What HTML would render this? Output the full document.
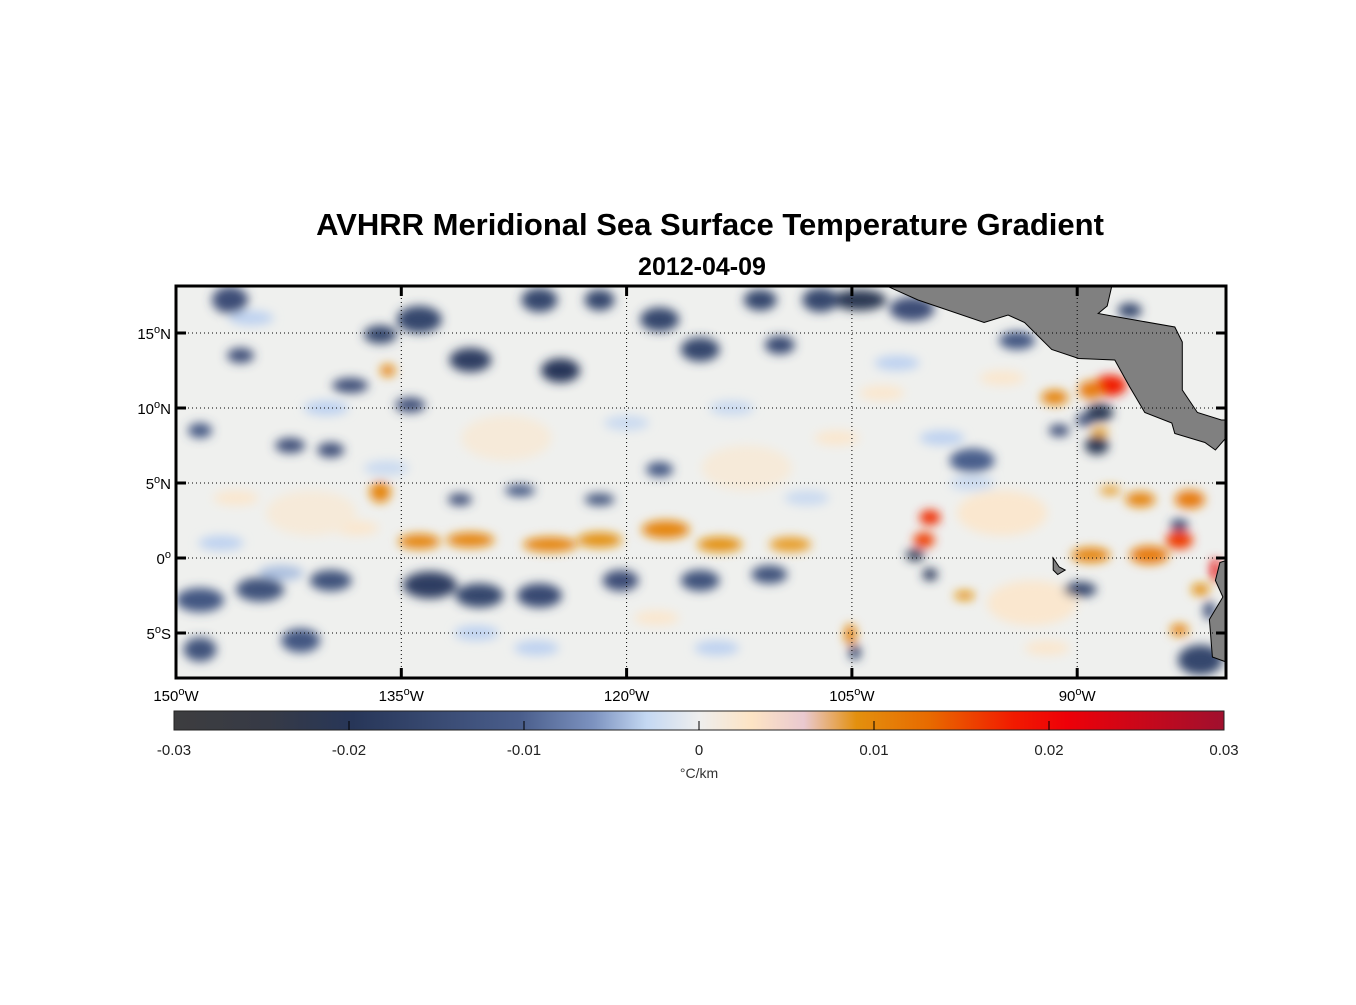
<!DOCTYPE html>
<html><head><meta charset="utf-8"><style>
body{margin:0;background:#fff;width:1356px;height:1000px;overflow:hidden;font-family:"Liberation Sans",Arial,sans-serif}
svg text{font-family:"Liberation Sans",Arial,sans-serif}
</style></head><body>
<svg id="chart" width="1356" height="1000" viewBox="0 0 1356 1000" xmlns="http://www.w3.org/2000/svg">
<defs>
<filter id="blur" x="-50%" y="-50%" width="200%" height="200%"><feGaussianBlur stdDeviation="5"/></filter>
<clipPath id="mapclip"><rect x="176" y="286" width="1050" height="392"/></clipPath>
<linearGradient id="cbgrad" x1="0" x2="1" y1="0" y2="0">
<stop offset="0" stop-color="#3d3d3f"/>
<stop offset="0.09" stop-color="#363a46"/>
<stop offset="0.17" stop-color="#273658"/>
<stop offset="0.33" stop-color="#4a5e8c"/>
<stop offset="0.40" stop-color="#7d93c0"/>
<stop offset="0.45" stop-color="#c4d8f2"/>
<stop offset="0.5" stop-color="#eeeeee"/>
<stop offset="0.55" stop-color="#fde4c4"/>
<stop offset="0.60" stop-color="#e9c9d0"/>
<stop offset="0.65" stop-color="#e3900e"/>
<stop offset="0.72" stop-color="#e86a00"/>
<stop offset="0.80" stop-color="#f21a00"/>
<stop offset="0.85" stop-color="#ee0008"/>
<stop offset="1" stop-color="#a0102e"/>
</linearGradient>
</defs>
<text x="710" y="235" font-size="31" font-weight="bold" text-anchor="middle">AVHRR Meridional Sea Surface Temperature Gradient</text>
<text x="702" y="275" font-size="25" font-weight="bold" text-anchor="middle">2012-04-09</text>
<g clip-path="url(#mapclip)">
<rect x="176" y="286" width="1050" height="392" fill="#eff0ee"/>
<g id="blobs" filter="url(#blur)"></g>
<g id="land"></g>
<g id="grid"></g>
</g>
<rect x="176" y="286" width="1050" height="392" fill="none" stroke="#000" stroke-width="3"/>
<g id="axes"></g>
<g id="colorbar">
<rect x="174" y="711" width="1050" height="19" fill="url(#cbgrad)" stroke="#222" stroke-width="1"/>
</g>
<text x="699" y="778" font-size="14" text-anchor="middle" fill="#333">°C/km</text>
</svg>
<script>
const NS="http://www.w3.org/2000/svg";
const lonTicks=[-150,-135,-120,-105,-90];
const latTicks=[15,10,5,0,-5];
const cbTicks=[-0.03,-0.02,-0.01,0,0.01,0.02,0.03];
const blobLon=[-133.8,-130.4,-125.1,-121.8,-117.4,-113.8,-109.1,-136.4,-135.9,-89.1,-87.8,-91.5,-88.5,-99.8,-100.2,-89.1,-85.2,-83.2,-82.5,-85.8,-81.8,-83.2,-105.1,-97.5,-87.8,-80.8,
-146.4,-133.8,-130.4,-134.4,-136.4,-125.8,-124.4,-121.8,-117.8,-115.1,-111.1,-107.1,-104.5,-109.8,-138.4,-145.7,-142.4,-139.7,-148.4,-131.1,-127.1,-121.8,-117.8,
-148.4,-144.4,-139.7,-133.1,-129.8,-125.8,-120.4,-115.1,-110.5,-148.4,-141.7,
-88.5,-88.7,-89.5,-91.2,-89.8,-100.8,-99.8,-104.8,-83.2,-81.2,-81.8,-86.5,-94,-101,-97,
-141,-128,-112,-93,-95,-145,-140,-138,-130,-118,-114,-108,-103,-99,-95,-147,-143,-126,-113,-106,-102,-97,-92,-120,-146,-136];
const blobLat=[1.1,1.2,0.9,1.2,1.9,0.9,0.9,4.4,12.5,11.2,11.5,10.7,8.4,2.7,1.2,0.2,0.2,1.2,3.9,3.9,-2.1,-4.8,-5.1,-2.5,4.5,-0.8,
17.2,15.9,13.2,10.2,14.9,17.2,12.5,17.2,15.9,13.9,17.2,17.2,17.2,14.2,11.5,13.5,7.5,7.2,8.5,3.9,4.5,3.9,5.9,
-2.8,-2.1,-1.5,-1.8,-2.5,-2.5,-1.5,-1.5,-1.1,-6.1,-5.5,
9.7,7.5,9.2,8.5,-2.1,0.2,-1.1,-6.3,2.2,-3.5,-6.8,16.5,14.5,16.6,6.5,
3,8,6,-3,3,16,10,2,-5,-4,-6,4,11,8,12,1,-1,-6,10,8,13,5,-6,9,4,6];
const blobVal=[0.011,0.011,0.011,0.01,0.011,0.01,0.009,0.011,0.011,0.012,0.019,0.011,0.009,0.018,0.017,0.011,0.012,0.017,0.012,0.011,0.01,0.011,0.011,0.01,0.009,0.021,
-0.014,-0.016,-0.018,-0.014,-0.016,-0.016,-0.02,-0.016,-0.016,-0.016,-0.016,-0.016,-0.022,-0.015,-0.014,-0.014,-0.014,-0.014,-0.012,-0.014,-0.012,-0.013,-0.012,
-0.012,-0.013,-0.013,-0.018,-0.016,-0.015,-0.014,-0.013,-0.013,-0.013,-0.012,
-0.022,-0.022,-0.014,-0.014,-0.016,-0.022,-0.02,-0.016,-0.015,-0.014,-0.016,-0.016,-0.012,-0.014,-0.01,
0.002,0.002,0.002,0.003,0.003,-0.004,-0.004,0.003,-0.004,0.003,-0.004,-0.003,0.003,-0.004,0.003,-0.004,-0.005,-0.004,-0.003,0.003,-0.004,-0.003,0.003,-0.003,0.003,-0.003];
const blobRx=[1.4,1.6,1.8,1.5,1.6,1.5,1.4,0.7,0.5,0.8,1.1,0.9,0.6,0.7,0.7,1.3,1.3,0.9,1,1,0.6,0.6,0.4,0.7,0.7,0.3,
1.2,1.5,1.4,1,1.1,1.2,1.3,1,1.3,1.3,1.1,1.2,1.8,1,1.2,0.9,1,0.9,0.8,0.8,1,1,0.9,
1.6,1.6,1.4,1.8,1.6,1.5,1.2,1.3,1.2,1.1,1.3,
0.9,0.8,0.6,0.7,1.1,0.6,0.5,0.4,0.6,0.4,1.5,0.8,1.2,1.5,1.5,
3,3,3,3,3,1.5,1.5,1.5,1.5,1.5,1.5,1.5,1.5,1.5,1.5,1.5,1.5,1.5,1.5,1.5,1.5,1.5,1.5,1.5,1.5,1.5];
const blobRy=[0.5,0.5,0.5,0.5,0.6,0.5,0.5,0.7,0.4,0.6,0.7,0.5,0.3,0.5,0.5,0.5,0.6,0.6,0.6,0.5,0.4,0.4,0.7,0.3,0.3,0.8,
0.9,0.9,0.8,0.5,0.6,0.8,0.8,0.7,0.8,0.8,0.7,0.8,0.7,0.6,0.5,0.5,0.5,0.5,0.5,0.4,0.4,0.4,0.5,
0.8,0.8,0.7,0.9,0.8,0.8,0.7,0.7,0.6,0.8,0.8,
0.6,0.6,0.4,0.4,0.5,0.4,0.4,0.5,0.4,0.6,1,0.5,0.6,0.8,0.8,
1.5,1.5,1.5,1.5,1.5,0.5,0.5,0.5,0.5,0.5,0.5,0.5,0.5,0.5,0.5,0.5,0.5,0.5,0.5,0.5,0.5,0.5,0.5,0.5,0.5,0.5];
const landMexico=[[-102.6,18.1],[-87.7,18.1],[-88.0,16.8],[-88.6,16.3],[-87.5,16.1],[-83.5,15.4],[-83,14.4],[-83,11.2],[-82,9.7],[-80.4,9.2],[-79.9,9.2],[-79.9,8.3],[-80.1,8],[-80.8,7.2],[-81.5,7.7],[-83.5,8.3],[-83.7,9],[-85.5,9.7],[-86.5,11.4],[-87.5,13.2],[-89.9,13.3],[-91.7,13.9],[-93.5,15.7],[-94.6,16.2],[-96.2,15.7],[-100.6,17.2]];
const landSA=[[-79.9,-0.1],[-80.5,-0.3],[-80.8,-1.5],[-80.3,-2.6],[-81.2,-4.1],[-81,-6.6],[-79.9,-7]];
const landGal=[[-91.6,0],[-91.2,-0.6],[-90.8,-0.8],[-91.3,-1.1],[-91.6,-0.8]];
function xs(lon){return 176+(lon+150)*15.02;}
function ys(lat){return 558-lat*15;}
function lerp(a,b,t){return a.map((v,i)=>Math.round(v+(b[i]-v)*t));}
const cStops=[[-0.03,[61,61,63]],[-0.02,[39,54,88]],[-0.01,[74,94,140]],[-0.004,[190,210,240]],[0,[239,240,238]],[0.004,[253,228,196]],[0.01,[227,144,14]],[0.015,[238,90,0]],[0.02,[240,10,5]],[0.03,[160,16,46]]];
function color(v){v=Math.max(-0.03,Math.min(0.03,v));for(let i=0;i<cStops.length-1;i++){const a=cStops[i],b=cStops[i+1];if(v<=b[0]){const c=lerp(a[1],b[1],(v-a[0])/(b[0]-a[0]));return `rgb(${c[0]},${c[1]},${c[2]})`;}}return 'rgb(160,16,46)';}
const blobs=document.getElementById('blobs');
for(let i=blobLon.length-1;i>=0;i--){
 const e=document.createElementNS(NS,'ellipse');
 e.setAttribute('cx',xs(blobLon[i]));e.setAttribute('cy',ys(blobLat[i]));
 e.setAttribute('rx',blobRx[i]*15.02);e.setAttribute('ry',blobRy[i]*15);
 e.setAttribute('fill',color(blobVal[i]));
 
 
 blobs.appendChild(e);
}
const land=document.getElementById('land');
[[landMexico,'land-central-america'],[landSA,'land-south-america'],[landGal,'land-galapagos']].forEach(([pts,nm])=>{
 const p=document.createElementNS(NS,'polygon');
 p.setAttribute('points',pts.map(q=>xs(q[0]).toFixed(1)+','+ys(q[1]).toFixed(1)).join(' '));
 p.setAttribute('fill','#808080');p.setAttribute('stroke','#000');p.setAttribute('stroke-width','1');
 
 
 land.appendChild(p);
});
const grid=document.getElementById('grid'),axes=document.getElementById('axes');
function ln(par,x1,y1,x2,y2,sw,dash,name){const l=document.createElementNS(NS,'line');l.setAttribute('x1',x1);l.setAttribute('y1',y1);l.setAttribute('x2',x2);l.setAttribute('y2',y2);l.setAttribute('stroke','#000');l.setAttribute('stroke-width',sw);if(dash)l.setAttribute('stroke-dasharray',dash);par.appendChild(l);}
function deg(par,x,y,num,suf,anchor,name,fs){const t=document.createElementNS(NS,'text');t.setAttribute('x',x);t.setAttribute('y',y);t.setAttribute('font-size',fs);t.setAttribute('text-anchor',anchor);t.innerHTML=num+'<tspan dy="-6" font-size="11">o</tspan><tspan dy="6">'+suf+'</tspan>';par.appendChild(t);}
lonTicks.forEach(l=>{const x=xs(l);ln(grid,x,286,x,678,1,'1,3','grid-lon');ln(axes,x,286,x,296,3,null,'x-tick');ln(axes,x,668,x,678,3,null,'x-tick');deg(axes,x,701,Math.abs(l),'W','middle','x-tick-label',15);});
latTicks.forEach(l=>{const y=ys(l);ln(grid,176,y,1226,y,1,'1,3','grid-lat');ln(axes,176,y,186,y,3,null,'y-tick');ln(axes,1216,y,1226,y,3,null,'y-tick');deg(axes,171,y+6,Math.abs(l),l>0?'N':(l<0?'S':''),'end','y-tick-label',15);});
const cb=document.getElementById('colorbar');
cbTicks.forEach(v=>{const x=174+(v+0.03)/0.06*1050;if(v>-0.03&&v<0.03)ln(cb,x,721,x,730,1,null,'colorbar-tick');
 const t=document.createElementNS(NS,'text');t.setAttribute('x',x);t.setAttribute('y',755);t.setAttribute('font-size',15);t.setAttribute('text-anchor','middle');t.setAttribute('fill','#222');t.textContent=String(v);
 
 
 cb.appendChild(t);});
</script>
</body></html>
